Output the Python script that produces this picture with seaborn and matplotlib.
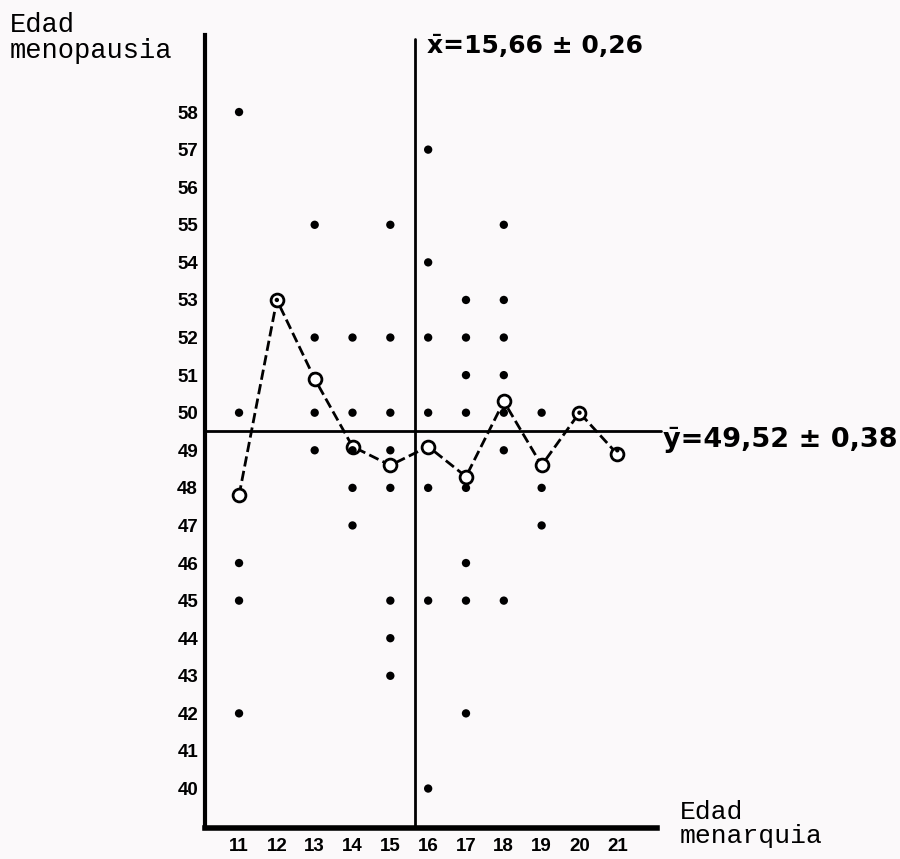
import numpy as np
import pandas as pd
import matplotlib.pyplot as plt
import seaborn as sns

# edad de la menarquia (eje x) y media de edad de menopausia por columna
edad_menarquia = [11, 12, 13, 14, 15, 16, 17, 18, 19, 20, 21]
media_menopausia = [47.8, 53.0, 50.9, 49.1, 48.6, 49.1, 48.3, 50.3, 48.6, 50.0, 48.9]

# casos individuales (edad menopausia) por edad de menarquia
menopausia_11 = [58, 50, 46, 45, 42]
menopausia_13 = [55, 52, 50, 49]
menopausia_14 = [52, 50, 49, 48, 47]
menopausia_15 = [55, 52, 50, 49, 48, 45, 44, 43]
menopausia_16 = [57, 54, 52, 50, 48, 45, 40]
menopausia_17 = [53, 52, 51, 50, 48, 46, 45, 42]
menopausia_18 = [55, 53, 52, 51, 50, 49, 45]
menopausia_19 = [50, 48, 47]

# columnas con un solo caso (punto dentro del circulo)
unico_x = [12, 20, 21]
unico_y = [53, 50, 49]

media_x = 15.66
media_y = 49.52
texto_x = "x\u0304=15,66 \u00b1 0,26"
texto_y = "y\u0304=49,52 \u00b1 0,38"

columnas = {11: menopausia_11, 13: menopausia_13, 14: menopausia_14, 15: menopausia_15,
            16: menopausia_16, 17: menopausia_17, 18: menopausia_18, 19: menopausia_19}
df_puntos = pd.DataFrame([(k, v) for k, vals in columnas.items() for v in vals],
                         columns=['menarquia', 'menopausia'])
df_medias = pd.DataFrame({'menarquia': edad_menarquia, 'menopausia': media_menopausia})
df_unico = pd.DataFrame({'menarquia': unico_x, 'menopausia': unico_y})

sns.set_style('white')
plt.rcParams['font.family'] = ['Liberation Sans', 'DejaVu Sans']
plt.rcParams['text.color'] = 'black'
plt.rcParams['xtick.color'] = 'black'
plt.rcParams['ytick.color'] = 'black'

fig = plt.figure(figsize=(9, 8.59), dpi=100, facecolor='#fbf9fa')
W, H = 900, 859
ax = fig.add_axes([205 / W, 1 - 828 / H, (657 - 205) / W, (828 - 35) / H])
ax.set_facecolor('#fbf9fa')

sns.lineplot(data=df_medias, x='menarquia', y='menopausia', ax=ax, color='black',
             lw=2, linestyle='--', dashes=(3.2, 2.2), zorder=2)
sns.scatterplot(data=df_medias, x='menarquia', y='menopausia', ax=ax, marker='o',
                s=85, facecolor='white', edgecolor='black', linewidth=2, zorder=3)
sns.scatterplot(data=df_puntos, x='menarquia', y='menopausia', ax=ax, color='black',
                s=36, edgecolor='none', zorder=4)
sns.scatterplot(data=df_unico, x='menarquia', y='menopausia', ax=ax, color='black',
                s=10, edgecolor='none', zorder=4)

ax.axvline(media_x, color='black', lw=2, ymax=0.995, zorder=1)
ax.axhline(media_y, color='black', lw=2, xmax=1.008, clip_on=False, zorder=1)

ax.set_xlim(10.1, 22.05)
ax.set_ylim(38.95, 60.05)
ax.set_xticks(edad_menarquia)
ax.set_yticks(range(40, 59))
ax.tick_params(axis='y', direction='in', length=5, width=2, pad=5, labelsize=13.5,
               labelcolor='black')
ax.tick_params(axis='x', direction='in', length=7, width=2, pad=7, labelsize=13.5,
               labelcolor='black')
for lab in ax.get_xticklabels() + ax.get_yticklabels():
    lab.set_fontweight('bold')

sns.despine(ax=ax)
ax.spines['left'].set_linewidth(3)
ax.spines['bottom'].set_linewidth(4)
ax.spines['left'].set_color('black')
ax.spines['bottom'].set_color('black')
ax.set_xlabel('')
ax.set_ylabel('')

fig.text(10 / W, 1 - 12 / H, 'Edad\nmenopausia', family='Liberation Mono', fontsize=19.5,
         va='top', ha='left', linespacing=1.0)
fig.text(680 / W, 1 - 800 / H, 'Edad\nmenarquia', family='Liberation Mono', fontsize=19,
         va='top', ha='left', linespacing=1.0)
fig.text(427 / W, 1 - 46 / H, texto_x, fontsize=18, fontweight='bold', va='center', ha='left',
         family=['DejaVu Sans'])
fig.text(663 / W, 1 - 440 / H, texto_y, fontsize=19.5, fontweight='bold', va='center', ha='left',
         family=['DejaVu Sans'])

fig.savefig('out.png', dpi=100, facecolor=fig.get_facecolor())
